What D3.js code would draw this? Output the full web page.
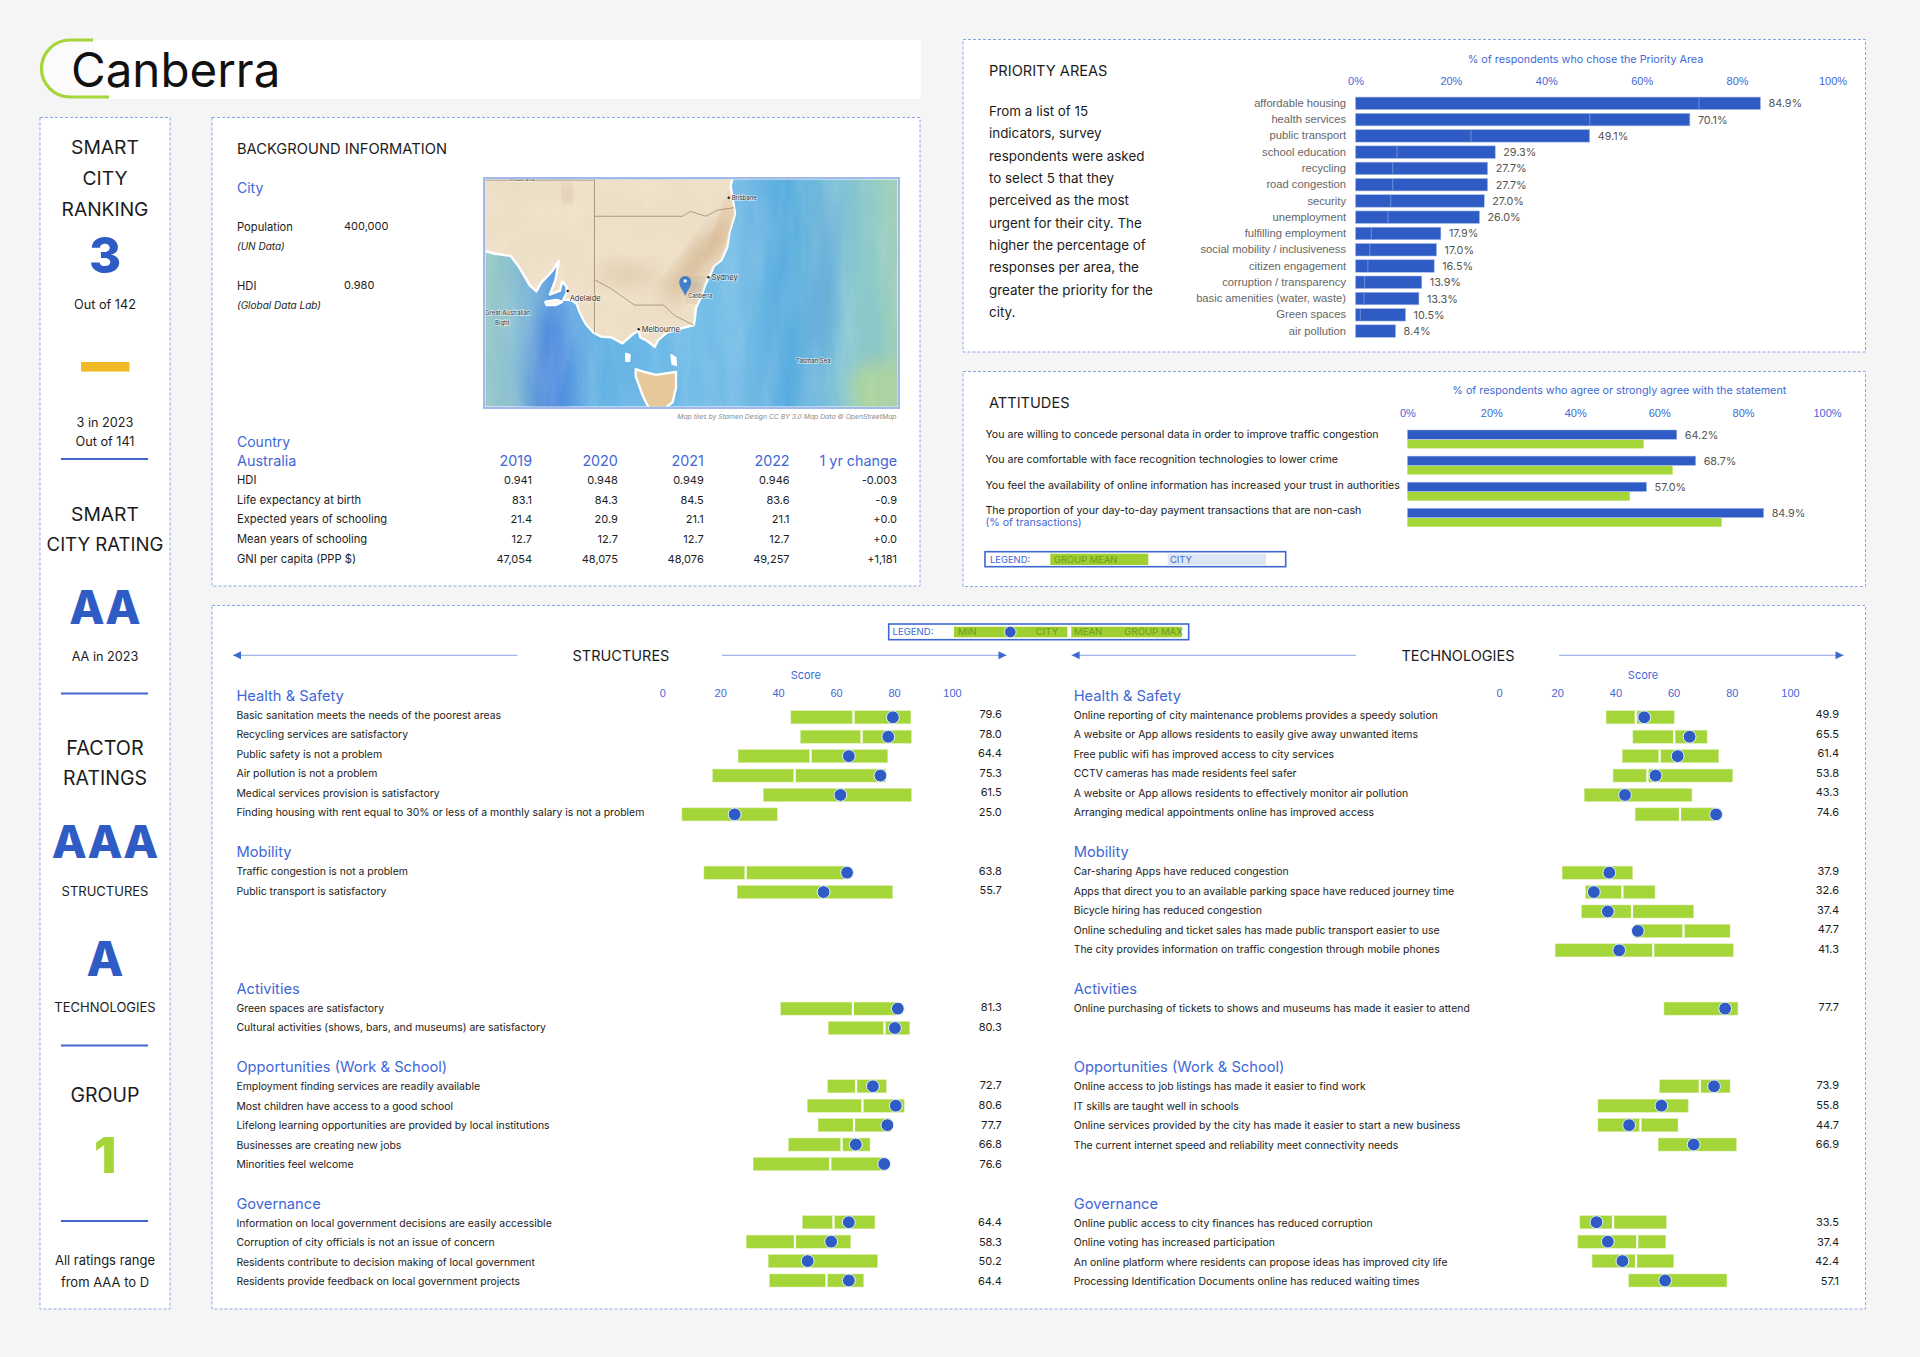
<!DOCTYPE html>
<html>
<head>
<meta charset="utf-8">
<script src="https://cdn.jsdelivr.net/npm/d3@7"></script>
<style>
  body { margin: 0; background: #f5f5f5; }
  svg { display: block; font-family: Inter, "Noto Sans", sans-serif; }
  .axis path, .axis line { display: none; }
</style>
</head>
<body>
<svg id="chart" width="1920" height="1357"></svg>
<script>
// Background table
const tableYears = ["2019", "2020", "2021", "2022", "1 yr change"];
const tableRows = ["HDI", "Life expectancy at birth", "Expected years of schooling", "Mean years of schooling", "GNI per capita (PPP $)"];
const hdiValues = ["0.941", "0.948", "0.949", "0.946", "-0.003"];
const lifeValues = ["83.1", "84.3", "84.5", "83.6", "-0.9"];
const expectedValues = ["21.4", "20.9", "21.1", "21.1", "+0.0"];
const meanYearValues = ["12.7", "12.7", "12.7", "12.7", "+0.0"];
const gniValues = ["47,054", "48,075", "48,076", "49,257", "+1,181"];

// Priority areas
const priorityNames = ["affordable housing", "health services", "public transport", "school education", "recycling", "road congestion", "security", "unemployment", "fulfilling employment", "social mobility / inclusiveness", "citizen engagement", "corruption / transparency", "basic amenities (water, waste)", "Green spaces", "air pollution"];
const priorityValues = [84.9, 70.1, 49.1, 29.3, 27.7, 27.7, 27.0, 26.0, 17.9, 17.0, 16.5, 13.9, 13.3, 10.5, 8.4];
const prioritySeams = [72, 49.1, 24.2, 8.7, 7.8, 7.8, 7.4, 6.8, 3.3, 3, 2.6, 1.9, 1.8, 1];
const priorityText = ["From a list of 15", "indicators, survey", "respondents were asked", "to select 5 that they", "perceived as the most", "urgent for their city. The", "higher the percentage of", "responses per area, the", "greater the priority for the", "city."];
const percentTicks = [0, 20, 40, 60, 80, 100];

// Attitudes
const attitudeNames = ["You are willing to concede personal data in order to improve traffic congestion", "You are comfortable with face recognition technologies to lower crime", "You feel the availability of online information has increased your trust in authorities", "The proportion of your day-to-day payment transactions that are non-cash"];
const attitudeCity = [64.2, 68.7, 57.0, 84.9];
const attitudeGroup = [56.3, 63.2, 53.0, 74.9];

// Score panels
const sectionNames = ["Health & Safety", "Mobility", "Activities", "Opportunities (Work & School)", "Governance"];
const sectionStartRows = [0, 8, 15, 19, 26];
const scoreTicks = [0, 20, 40, 60, 80, 100];

const structLabels = ["Basic sanitation meets the needs of the poorest areas", "Recycling services are satisfactory", "Public safety is not a problem", "Air pollution is not a problem", "Medical services provision is satisfactory", "Finding housing with rent equal to 30% or less of a monthly salary is not a problem",
  "Traffic congestion is not a problem", "Public transport is satisfactory",
  "Green spaces are satisfactory", "Cultural activities (shows, bars, and museums) are satisfactory",
  "Employment finding services are readily available", "Most children have access to a good school", "Lifelong learning opportunities are provided by local institutions", "Businesses are creating new jobs", "Minorities feel welcome",
  "Information on local government decisions are easily accessible", "Corruption of city officials is not an issue of concern", "Residents contribute to decision making of local government", "Residents provide feedback on local government projects"];
const structRows = [0, 1, 2, 3, 4, 5, 8, 9, 15, 16, 19, 20, 21, 22, 23, 26, 27, 28, 29];
const structMin = [44.4, 47.7, 26.2, 17.4, 34.9, 6.8, 14.4, 25.9, 40.9, 57.3, 57.1, 50.1, 53.8, 43.6, 31.4, 48.4, 29.0, 36.6, 37.0];
const structMean = [66, 68.8, 51.2, 45.7, 61.5, 25, 28.8, 55.7, 65.8, 76.7, 66.9, 69.1, 66.2, 61.9, 58, 59.1, 45.8, 50.2, 56.7];
const structMax = [85.8, 86, 77.8, 77, 86, 39.7, 63, 79.5, 81, 85.4, 77.3, 83.5, 78.9, 71.7, 77, 73.4, 65, 74.3, 69.5];
const structCity = [79.6, 78.0, 64.4, 75.3, 61.5, 25.0, 63.8, 55.7, 81.3, 80.3, 72.7, 80.6, 77.7, 66.8, 76.6, 64.4, 58.3, 50.2, 64.4];

const techLabels = ["Online reporting of city maintenance problems provides a speedy solution", "A website or App allows residents to easily give away unwanted items", "Free public wifi has improved access to city services", "CCTV cameras has made residents feel safer", "A website or App allows residents to effectively monitor air pollution", "Arranging medical appointments online has improved access",
  "Car-sharing Apps have reduced congestion", "Apps that direct you to an available parking space have reduced journey time", "Bicycle hiring has reduced congestion", "Online scheduling and ticket sales has made public transport easier to use", "The city provides information on traffic congestion through mobile phones",
  "Online purchasing of tickets to shows and museums has made it easier to attend",
  "Online access to job listings has made it easier to find work", "IT skills are taught well in schools", "Online services provided by the city has made it easier to start a new business", "The current internet speed and reliability meet connectivity needs",
  "Online public access to city finances has reduced corruption", "Online voting has increased participation", "An online platform where residents can propose ideas has improved city life", "Processing Identification Documents online has reduced waiting times"];
const techRows = [0, 1, 2, 3, 4, 5, 8, 9, 10, 11, 12, 15, 19, 20, 21, 22, 26, 27, 28, 29];
const techMin = [36.8, 46, 42.4, 39.2, 29.3, 46.8, 21.7, 29.8, 28.4, 46.6, 19.3, 56.7, 55.2, 34, 34, 54.7, 27.8, 27.1, 32, 44.6];
const techMean = [47, 60.2, 55.2, 51, 43.3, 62.2, 37.9, 42.4, 45.7, 63.4, 53, 77.7, 69, 55.8, 48.6, 66.9, 39.2, 47.5, 47.1, 57.1];
const techMax = [60.2, 71.5, 75.5, 80.3, 66.3, 74.2, 45.9, 53.6, 66.9, 79.4, 80.5, 82.1, 79.4, 65, 61.5, 81.6, 57.5, 57.3, 60, 78.3];
const techCity = [49.9, 65.5, 61.4, 53.8, 43.3, 74.6, 37.9, 32.6, 37.4, 47.7, 41.3, 77.7, 73.9, 55.8, 44.7, 66.9, 33.5, 37.4, 42.4, 57.1];

// Base map, lon / lat
const mainland = [[128, -20], [156, -20], [153.6, -25], [153.2, -26.5], [153.5, -28.2], [153.6, -28.8], [153.1, -30.3], [152.9, -31.5], [152.4, -32.5], [151.7, -33], [151.3, -33.8], [150.9, -34.5], [150.6, -35.3], [150.1, -36.2], [150, -37], [149.9, -37.5], [148.5, -37.8], [147.5, -38.05], [146.7, -38.6], [146.4, -39.1], [145.7, -38.65], [145.1, -38.4], [144.95, -37.9], [144.4, -38.2], [143.5, -38.85], [142.5, -38.4], [141.6, -38.35], [140.9, -38.05], [140.2, -37.4], [139.7, -36.6], [139.4, -35.9], [138.9, -35.6], [138.2, -35.6], [138.5, -35.1], [138.5, -34.6], [138.1, -34.2], [137.9, -34.9], [137, -35.2], [137.5, -34.1], [137.8, -32.6], [137.2, -33.4], [136.2, -34.3], [135.8, -34.95], [135.2, -34.5], [134.2, -33], [133.5, -32.2], [132, -32], [130, -31.5], [128, -31.6]];
const tasmania = [[144.7, -40.7], [145.5, -40.9], [146.5, -41.1], [148.3, -40.9], [148.3, -42], [148, -43], [147, -43.6], [146, -43.6], [145.3, -42.5], [144.7, -41.2]];
const kangaroo = [[136.6, -35.75], [137.6, -35.6], [138.1, -35.75], [137.5, -36], [136.7, -36]];
const kingIsland = [[143.85, -39.6], [144.15, -39.7], [144.1, -40.1], [143.85, -40.1]];
const flinders = [[147.9, -39.7], [148.25, -39.9], [148.3, -40.4], [148, -40.3]];
const borders = [
  [[141, -26], [141, -38.05]],
  [[141, -29], [148.9, -29], [149.6, -28.6], [151, -29], [152, -28.5], [153.5, -28.3]],
  [[129, -26], [141, -26]],
  [[141, -34.05], [142.4, -34.7], [143.4, -35.3], [144.6, -36], [146, -36], [147.2, -36], [148.2, -36.8], [149.9, -37.5]]
];
const mapCities = ["Brisbane", "Sydney", "Adelaide", "Melbourne"];
const mapCityLon = [153.03, 151.21, 138.6, 144.96];
const mapCityLat = [-27.47, -33.87, -34.93, -37.81];
const canberra = [149.13, -35.3];

const blue = "#2f5bc4";
const lineBlue = "#3f68cf";
const textBlue = "#3f68d6";
const green = "#a4d639";
const legendGreen = "#9fcf30";
const legendText = "#6f9a22";
const ink = "#1c1c1c";
const dash = "#8aa5e6";

const svg = d3.select("#chart");

function text(parent, x, y, str, size, opts = {}) {
  return parent.append("text")
    .attr("x", x)
    .attr("y", y)
    .attr("font-size", size)
    .attr("text-anchor", opts.anchor || "start")
    .attr("font-weight", opts.weight || 400)
    .attr("font-style", opts.style || "normal")
    .attr("fill", opts.fill || ink)
    .text(str);
}

function panel(x, y, w, h) {
  svg.append("rect")
    .attr("x", x).attr("y", y).attr("width", w).attr("height", h)
    .attr("fill", "#fff")
    .attr("stroke", dash)
    .attr("stroke-width", 1)
    .attr("stroke-dasharray", "3 2");
}

// Title
svg.append("rect").attr("x", 70).attr("y", 40).attr("width", 851).attr("height", 59).attr("fill", "#fff");
svg.append("path")
  .attr("d", "M93 40 H70 A28.5 28.5 0 0 0 70 97 H109")
  .attr("fill", "#fbfbfb")
  .attr("stroke", green)
  .attr("stroke-width", 3.2);
text(svg, 71, 86.5, "Canberra", 47.5, { fill: "#111" });

panel(40, 117.5, 130, 1191.5);
panel(212, 117.5, 708, 468.5);
panel(963, 39.5, 902.5, 312.5);
panel(963, 371.5, 902.5, 215);
panel(212, 605.5, 1653.5, 703.5);

// Left column
const sideX = 105;
const side = (y, str, size, opts = {}) => text(svg, sideX, y, str, size, { anchor: "middle", ...opts });
const sideRule = y => svg.append("line").attr("x1", 61).attr("x2", 148).attr("y1", y).attr("y2", y).attr("stroke", lineBlue).attr("stroke-width", 2);
side(154, "SMART", 19.3);
side(184.5, "CITY", 19.3);
side(215.5, "RANKING", 19.2);
side(272.5, "3", 49, { fill: blue, weight: 800 });
side(309, "Out of 142", 12.7);
svg.append("rect").attr("x", 81).attr("y", 362).attr("width", 48.5).attr("height", 9.6).attr("fill", "#f0b925");
side(427, "3 in 2023", 12.7);
side(446, "Out of 141", 12.7);
sideRule(459);
side(520.5, "SMART", 19.3);
side(551, "CITY RATING", 18.6);
side(624, "AA", 46, { fill: blue, weight: 800 });
side(660.5, "AA in 2023", 12.7);
sideRule(693.5);
side(755, "FACTOR", 19.8);
side(785, "RATINGS", 19.5);
side(858, "AAA", 45.5, { fill: blue, weight: 800 });
side(895.5, "STRUCTURES", 13);
side(976, "A", 48, { fill: blue, weight: 800 });
side(1012, "TECHNOLOGIES", 13);
sideRule(1045.5);
side(1102, "GROUP", 19.5);
side(1172.5, "1", 49, { fill: green, weight: 900 });
sideRule(1221);
side(1265, "All ratings range", 13);
side(1287, "from AAA to D", 13);

// Background information
text(svg, 237, 154, "BACKGROUND INFORMATION", 14.7);
text(svg, 237, 192.5, "City", 14, { fill: textBlue });
text(svg, 237, 230.7, "Population", 11.2);
text(svg, 344, 230, "400,000", 11);
text(svg, 237, 249.5, "(UN Data)", 10, { style: "italic" });
text(svg, 237, 289.7, "HDI", 11.2);
text(svg, 344, 289, "0.980", 11);
text(svg, 237, 308.5, "(Global Data Lab)", 10, { style: "italic" });
text(svg, 237, 447, "Country", 14, { fill: textBlue });
text(svg, 237, 466, "Australia", 14.4, { fill: textBlue });

const tableX = d3.scalePoint().domain(tableYears.slice(0, 4)).range([532, 789.6]);
const colRight = d => d === "1 yr change" ? 897 : tableX(d);
const rowY = d3.scalePoint().domain(tableRows).range([484, 562.6]);
tableYears.forEach(d => text(svg, colRight(d), 466, d, 14.3, { anchor: "end", fill: textBlue }));
[hdiValues, lifeValues, expectedValues, meanYearValues, gniValues].forEach((vals, r) => {
  text(svg, 237, rowY(tableRows[r]), tableRows[r], 11.2);
  vals.forEach((v, c) => text(svg, colRight(tableYears[c]), rowY(tableRows[r]), v, 11, { anchor: "end" }));
});

// Map
const defs = svg.append("defs");
defs.append("clipPath").attr("id", "mapClip").append("rect").attr("x", 485.5).attr("y", 179.5).attr("width", 412).attr("height", 227);
defs.append("clipPath").attr("id", "landClip");
["soft", "softer"].forEach((id, i) => {
  defs.append("filter").attr("id", id).attr("x", "-50%").attr("y", "-50%").attr("width", "200%").attr("height", "200%")
    .append("feGaussianBlur").attr("stdDeviation", i ? 9 : 0.5);
});
// watercolour grain
const grain = (id, fx, fy, color, alpha) => {
  const f = defs.append("filter").attr("id", id).attr("x", 0).attr("y", 0).attr("width", "100%").attr("height", "100%");
  f.append("feTurbulence").attr("type", "fractalNoise").attr("baseFrequency", `${fx} ${fy}`).attr("numOctaves", 4).attr("seed", 7);
  f.append("feColorMatrix").attr("type", "matrix")
    .attr("values", `0 0 0 0 ${color[0]} 0 0 0 0 ${color[1]} 0 0 0 0 ${color[2]} ${alpha} 0 0 0 ${-alpha * 0.35}`);
};
grain("seaGrain", 0.03, 0.006, [0.18, 0.42, 0.82], 1.3);
grain("seaGrainLight", 0.05, 0.01, [0.75, 0.9, 0.95], 0.9);
grain("landGrain", 0.03, 0.03, [0.72, 0.56, 0.36], 0.9);
const seaGrad = defs.append("linearGradient").attr("id", "sea");
[[0, "#9ccbc3"], [0.07, "#8cc2d0"], [0.17, "#5f9fe2"], [0.27, "#63b3e4"], [0.5, "#72bfe8"], [0.62, "#76bee6"], [0.73, "#55acdf"], [0.84, "#7fc3d9"], [0.95, "#93cdc2"], [1, "#a5d2b4"]]
  .forEach(s => seaGrad.append("stop").attr("offset", s[0]).attr("stop-color", s[1]));

const lonX = d3.scaleLinear().domain([138.6, 153.03]).range([567.7, 728.7]);
const mercator = lat => Math.log(Math.tan(Math.PI / 4 - lat * Math.PI / 360));
const mercY = d3.scaleLinear().domain([mercator(-27.47), mercator(-37.81)]).range([197.7, 329.3]);
const mapLine = d3.line().x(d => lonX(d[0])).y(d => mercY(mercator(d[1])));

const mapG = svg.append("g").attr("clip-path", "url(#mapClip)");
mapG.append("rect").attr("x", 484).attr("y", 178).attr("width", 415).attr("height", 230).attr("fill", "url(#sea)");
mapG.append("ellipse").attr("cx", 550).attr("cy", 390).attr("rx", 20).attr("ry", 80).attr("fill", "#3f78dc").attr("opacity", 0.55).attr("filter", "url(#softer)");
mapG.append("ellipse").attr("cx", 823).attr("cy", 280).attr("rx", 9).attr("ry", 90).attr("fill", "#3f8fd0").attr("opacity", 0.5).attr("filter", "url(#softer)");
mapG.append("ellipse").attr("cx", 880).attr("cy", 390).attr("rx", 30).attr("ry", 30).attr("fill", "#bcd98a").attr("opacity", 0.7).attr("filter", "url(#softer)");
mapG.append("rect").attr("x", 484).attr("y", 178).attr("width", 415).attr("height", 230).attr("filter", "url(#seaGrain)").attr("opacity", 0.35);
mapG.append("rect").attr("x", 484).attr("y", 178).attr("width", 415).attr("height", 230).attr("filter", "url(#seaGrainLight)").attr("opacity", 0.35);

const landPieces = [mainland, tasmania, kangaroo, kingIsland, flinders];
const landFills = ["#efe1ca", "#e8c99c", "#fbf6ee", "#fff", "#fff"];
mapG.selectAll(".land")
  .data(landPieces)
  .enter().append("path")
  .attr("class", "land")
  .attr("d", d => mapLine(d) + "Z")
  .attr("fill", (d, i) => landFills[i])
  .attr("stroke", "#fff")
  .attr("stroke-width", 2.4)
  .attr("stroke-linejoin", "round");
// darker washes on the land
defs.select("#landClip").selectAll("path").data(landPieces.slice(0, 2)).enter().append("path").attr("d", d => mapLine(d) + "Z");
const wash = mapG.append("g").attr("clip-path", "url(#landClip)");
wash.append("rect").attr("x", 484).attr("y", 178).attr("width", 415).attr("height", 230).attr("filter", "url(#landGrain)").attr("opacity", 0.28);
wash.append("ellipse").attr("cx", 696).attr("cy", 262).attr("rx", 9).attr("ry", 50).attr("transform", "rotate(38 696 262)").attr("fill", "#b98f5c").attr("opacity", 0.5).attr("filter", "url(#softer)");
wash.append("ellipse").attr("cx", 724).attr("cy", 225).attr("rx", 4).attr("ry", 30).attr("transform", "rotate(20 724 225)").attr("fill", "#c8925a").attr("opacity", 0.6).attr("filter", "url(#softer)");
wash.append("ellipse").attr("cx", 627).attr("cy", 275).attr("rx", 28).attr("ry", 10).attr("fill", "#c8a878").attr("opacity", 0.3).attr("filter", "url(#softer)");
wash.append("ellipse").attr("cx", 567).attr("cy", 194).attr("rx", 3).attr("ry", 6).attr("fill", "#8e6a44").attr("opacity", 0.9).attr("filter", "url(#softer)");
wash.append("ellipse").attr("cx", 696).attr("cy", 290).attr("rx", 5).attr("ry", 7).attr("fill", "#2a2a2a").attr("opacity", 0.7).attr("filter", "url(#softer)");

mapG.selectAll(".border")
  .data(borders)
  .enter().append("path")
  .attr("class", "border")
  .attr("d", mapLine)
  .attr("fill", "none")
  .attr("stroke", "#9a8a74")
  .attr("stroke-width", 0.8);

const mapLabel = (x, y, str, size) => text(mapG, x, y, str, size, { fill: "#333" })
  .attr("stroke", "#fff").attr("stroke-width", 1.5).attr("stroke-opacity", 0.6).attr("paint-order", "stroke");
mapCities.forEach((c, i) => {
  const cx = lonX(mapCityLon[i]);
  const cy = mercY(mercator(mapCityLat[i]));
  mapG.append("circle").attr("cx", cx).attr("cy", cy).attr("r", 1.2).attr("fill", "#222");
  const big = c === "Brisbane" ? 6 : 7.5;
  mapLabel(cx + (c === "Adelaide" ? 2 : 3), cy + (c === "Adelaide" ? 10 : 2.5), c, big);
});
mapLabel(485, 315, "Great Australian", 6);
mapLabel(495, 325, "Bight", 6);
mapLabel(796, 363, "Tasman Sea", 6);
mapLabel(510, 181, "Australia", 6);

// pin
const pinX = lonX(canberra[0]);
const pinY = mercY(mercator(canberra[1]));
mapLabel(pinX + 3, pinY + 2, "Canberra", 5.5);
mapG.append("path")
  .attr("transform", `translate(${pinX},${pinY})`)
  .attr("d", "M0 0 C-2 -6 -6 -9 -6 -14 A6 6 0 1 1 6 -14 C6 -9 2 -6 0 0Z")
  .attr("fill", "#3f80c8");
mapG.append("circle").attr("cx", pinX).attr("cy", pinY - 15).attr("r", 1.7).attr("fill", "#fff");

svg.append("rect").attr("x", 484).attr("y", 178).attr("width", 415).attr("height", 230)
  .attr("fill", "none").attr("stroke", "#a3b9ea").attr("stroke-width", 2);
text(svg, 896.5, 419, "Map tiles by Stamen Design CC BY 3.0 Map Data © OpenStreetMap", 6.8, { anchor: "end", style: "italic", fill: "#8a8a8a" });

// Priority areas
text(svg, 989, 75.5, "PRIORITY AREAS", 14.6);
const paragraphY = d3.scaleLinear().domain([0, 9]).range([116, 317]);
priorityText.forEach((line, i) => text(svg, 989, paragraphY(i), line, 13.4));
text(svg, 1585.5, 62.5, "% of respondents who chose the Priority Area", 10.8, { anchor: "middle", fill: textBlue });

const prioX = d3.scaleLinear().domain([0, 100]).range([1355.5, 1832.5]);
const prioY = d3.scaleBand().domain(priorityNames).range([95.2, 339.2]).paddingInner(0.23).paddingOuter(0.115);

const percentAxis = (scale, y) => svg.append("g")
  .attr("class", "axis")
  .attr("transform", `translate(0,${y})`)
  .call(d3.axisTop(scale).tickValues(percentTicks).tickSize(0).tickPadding(0).tickFormat(d => d + "%"))
  .call(g => g.selectAll("text").attr("fill", textBlue).attr("font-size", 11).attr("font-family", null));
percentAxis(prioX, 85);

svg.append("g")
  .attr("class", "axis")
  .attr("transform", `translate(1346,0)`)
  .call(d3.axisLeft(prioY).tickSize(0).tickPadding(0))
  .call(g => g.selectAll("text").attr("fill", "#666").attr("font-size", 11.2).attr("font-family", null));

svg.append("g").selectAll("rect")
  .data(priorityNames)
  .enter().append("rect")
  .attr("x", prioX(0))
  .attr("y", d => prioY(d))
  .attr("width", (d, i) => prioX(priorityValues[i]) - prioX(0))
  .attr("height", prioY.bandwidth())
  .attr("fill", blue)
  .attr("stroke", "#a9bdea")
  .attr("stroke-width", 0.6);
svg.append("g").selectAll("line")
  .data(prioritySeams)
  .enter().append("line")
  .attr("x1", d => prioX(d)).attr("x2", d => prioX(d))
  .attr("y1", (d, i) => prioY(priorityNames[i]))
  .attr("y2", (d, i) => prioY(priorityNames[i]) + prioY.bandwidth())
  .attr("stroke", "#7f9be0")
  .attr("stroke-width", 0.8);
priorityNames.forEach((d, i) => {
  text(svg, prioX(priorityValues[i]) + 8, prioY(d) + prioY.bandwidth() / 2 + 4, priorityValues[i].toFixed(1) + "%", 10.8, { fill: "#555" });
});

// Attitudes
text(svg, 989, 407.7, "ATTITUDES", 14.6);
text(svg, 1619.3, 394.4, "% of respondents who agree or strongly agree with the statement", 10.75, { anchor: "middle", fill: textBlue });
const attX = d3.scaleLinear().domain([0, 100]).range([1407.4, 1827]);
const attY = d3.scaleBand().domain(attitudeNames).range([430, 534.4]);
const attBar = 9;
percentAxis(attX, 416.6);
const attLabelY = [438, 463.2, 488.7, 514];
attitudeNames.forEach((d, i) => {
  text(svg, 985.4, attLabelY[i], d, 10.65);
  svg.append("rect").attr("x", attX(0)).attr("y", attY(d)).attr("width", attX(attitudeCity[i]) - attX(0)).attr("height", attBar + 0.3)
    .attr("fill", blue).attr("stroke", "#a9bdea").attr("stroke-width", 0.5);
  svg.append("rect").attr("x", attX(0)).attr("y", attY(d) + attBar + 0.8).attr("width", attX(attitudeGroup[i]) - attX(0)).attr("height", attBar - 0.4)
    .attr("fill", green);
  text(svg, attX(attitudeCity[i]) + 8, attY(d) + attBar - 0.5, attitudeCity[i].toFixed(1) + "%", 10.8, { fill: "#555" });
});
text(svg, 985.4, 525.7, "(% of transactions)", 10.65, { fill: textBlue });

// Attitudes legend
svg.append("rect").attr("x", 985).attr("y", 551.7).attr("width", 300.7).attr("height", 15).attr("fill", "#fff").attr("stroke", lineBlue).attr("stroke-width", 1.6);
text(svg, 990, 562.7, "LEGEND:", 9.4, { fill: textBlue });
svg.append("rect").attr("x", 1050.3).attr("y", 553.7).attr("width", 98).attr("height", 11.3).attr("fill", legendGreen);
text(svg, 1054, 562.7, "GROUP MEAN", 9.4, { fill: legendText });
svg.append("rect").attr("x", 1167.7).attr("y", 553.7).attr("width", 98.3).attr("height", 11.3).attr("fill", "#dbe7f6");
text(svg, 1170, 562.7, "CITY", 9.4, { fill: textBlue });

// Score legend
svg.append("rect").attr("x", 888.7).attr("y", 624).attr("width", 300).attr("height", 15.7).attr("fill", "#fff").attr("stroke", lineBlue).attr("stroke-width", 1.6);
text(svg, 892.5, 635.3, "LEGEND:", 9.6, { fill: textBlue });
svg.append("rect").attr("x", 954).attr("y", 626.7).attr("width", 227.7).attr("height", 10.6).attr("fill", legendGreen);
svg.append("rect").attr("x", 1067.3).attr("y", 626.7).attr("width", 4).attr("height", 10.6).attr("fill", "#fff");
svg.append("circle").attr("cx", 1010.3).attr("cy", 632).attr("r", 5.8).attr("fill", blue).attr("stroke", "#fff").attr("stroke-width", 0.8);
[["MIN", 958], ["CITY", 1035.7], ["MEAN", 1074], ["GROUP MAX", 1124.3]].forEach(d => text(svg, d[1], 635.3, d[0], 9.6, { fill: legendText }));

// Structure and technology columns
function scoreColumn(c) {
  const x = d3.scaleLinear().domain([0, 100]).range(c.range);
  const barY = d3.scaleLinear().domain([0, 1]).range([717.3, 736.72]);
  const labelY = d3.scaleLinear().domain([0, 1]).range([718.7, 738.24]);
  const g = svg.append("g");

  text(g, c.titleX, 660.7, c.title, 14.5, { anchor: "middle" });
  [[c.left, c.left + 284.5, -1], [c.right, c.right + 284.5, 1]].forEach(a => {
    g.append("line").attr("x1", a[0]).attr("x2", a[1]).attr("y1", 655.3).attr("y2", 655.3).attr("stroke", "#8aa5e6").attr("stroke-width", 1);
    const tip = a[2] < 0 ? a[0] : a[1];
    g.append("path")
      .attr("transform", `translate(${tip},655.3) scale(${-a[2]},1)`)
      .attr("d", "M0 0 L8 -4 L8 4Z")
      .attr("fill", lineBlue);
  });
  text(g, c.scoreX, 678.7, "Score", 11, { anchor: "middle", fill: textBlue });

  g.append("g")
    .attr("class", "axis")
    .attr("transform", "translate(0,696.7)")
    .call(d3.axisTop(x).tickValues(scoreTicks).tickSize(0).tickPadding(0))
    .call(s => s.selectAll("text").attr("fill", textBlue).attr("font-size", 11).attr("font-family", null));

  sectionNames.forEach((name, i) => text(g, c.textX, labelY(sectionStartRows[i]) - 17.7, name, 14.7, { fill: textBlue }));

  c.labels.forEach((label, i) => {
    const r = c.rows[i];
    text(g, c.textX, labelY(r), label, 10.45);
    text(g, c.valueX, labelY(r) - 0.5, c.city[i].toFixed(1), 11, { anchor: "end" });
  });

  const rangeBar = (lo, hi, r) => g.append("rect")
    .attr("x", x(lo)).attr("y", barY(r) - 6.5)
    .attr("width", x(hi) - x(lo)).attr("height", 13)
    .attr("fill", green)
    .attr("stroke", "#d5eaa0")
    .attr("stroke-width", 0.5);

  c.rows.forEach((r, i) => {
    rangeBar(c.min[i], c.max[i], r);
    g.append("line")
      .attr("x1", x(c.mean[i])).attr("x2", x(c.mean[i]))
      .attr("y1", barY(r) - 6.5).attr("y2", barY(r) + 6.5)
      .attr("stroke", "#fff").attr("stroke-width", 2.2);
    g.append("circle")
      .attr("cx", x(c.city[i])).attr("cy", barY(r))
      .attr("r", 6.4)
      .attr("fill", blue)
      .attr("stroke", "#e8f2ff")
      .attr("stroke-width", 1);
  });
}

scoreColumn({ title: "STRUCTURES", titleX: 621, left: 233, right: 722, scoreX: 805.8, range: [662.2, 952], textX: 236.4, valueX: 1001.8,
  labels: structLabels, rows: structRows, min: structMin, mean: structMean, max: structMax, city: structCity });
scoreColumn({ title: "TECHNOLOGIES", titleX: 1458, left: 1071.6, right: 1559, scoreX: 1643, range: [1499, 1790], textX: 1073.7, valueX: 1839,
  labels: techLabels, rows: techRows, min: techMin, mean: techMean, max: techMax, city: techCity });
</script>
</body>
</html>
